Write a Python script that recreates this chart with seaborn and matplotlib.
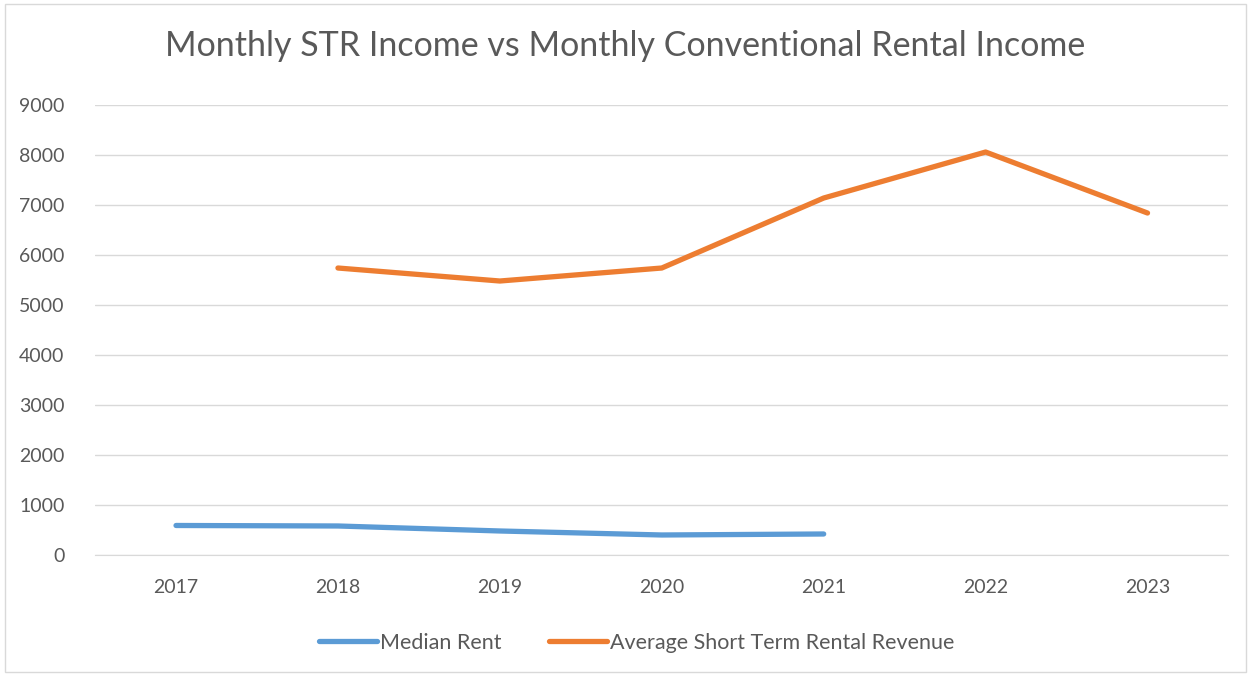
import pandas as pd
import matplotlib.pyplot as plt
import seaborn as sns

years = ['2017', '2018', '2019', '2020', '2021', '2022', '2023']
median_rent = [590, 580, 480, 400, 420, None, None]
str_revenue = [None, 5740, 5480, 5740, 7140, 8060, 6840]

df = pd.DataFrame({
    'Year': years * 2,
    'Value': median_rent + str_revenue,
    'Series': ['Median Rent'] * 7 + ['Average Short Term Rental Revenue'] * 7,
}).dropna()

sns.set_style("white")
plt.rcParams['font.family'] = ['Lato', 'DejaVu Sans']

fig = plt.figure(figsize=(12.51, 6.75), dpi=100)
ax = fig.add_axes([0.076, 0.1778, 0.906, 0.6666])

sns.lineplot(data=df, x='Year', y='Value', hue='Series',
             palette=['#5b9bd5', '#ed7d31'], linewidth=3.8,
             solid_capstyle='round', sort=False, ax=ax)

ax.set_xlim(-0.5, 6.5)
ax.set_ylim(0, 9000)
ax.set_yticks(range(0, 9001, 1000))
ax.grid(axis='y', color='#d9d9d9', linewidth=1)
ax.set_axisbelow(True)
for s in ['left', 'right', 'top']:
    ax.spines[s].set_visible(False)
ax.spines['bottom'].set_color('#d9d9d9')
ax.tick_params(axis='both', labelsize=14, labelcolor='#595959', length=0)
ax.tick_params(axis='x', pad=17)
ax.tick_params(axis='y', pad=22)
ax.set_xlabel('')
ax.set_ylabel('')

leg = ax.legend(loc='upper center', bbox_to_anchor=(0.478, -0.13), ncol=2, frameon=False,
                fontsize=15.5, labelcolor='#595959', handlelength=2.7, handletextpad=0.15,
                columnspacing=2.2)

fig.suptitle('Monthly STR Income vs Monthly Conventional Rental Income',
             fontsize=24.5, color='#595959', y=0.955)

# thin frame around the chart like the spreadsheet export
border = plt.Rectangle((0.004, 0.004), 0.992, 0.99, transform=fig.transFigure,
                       fill=False, edgecolor='#d9d9d9', linewidth=1)
fig.patches.append(border)

plt.savefig('out.png', dpi=100)
